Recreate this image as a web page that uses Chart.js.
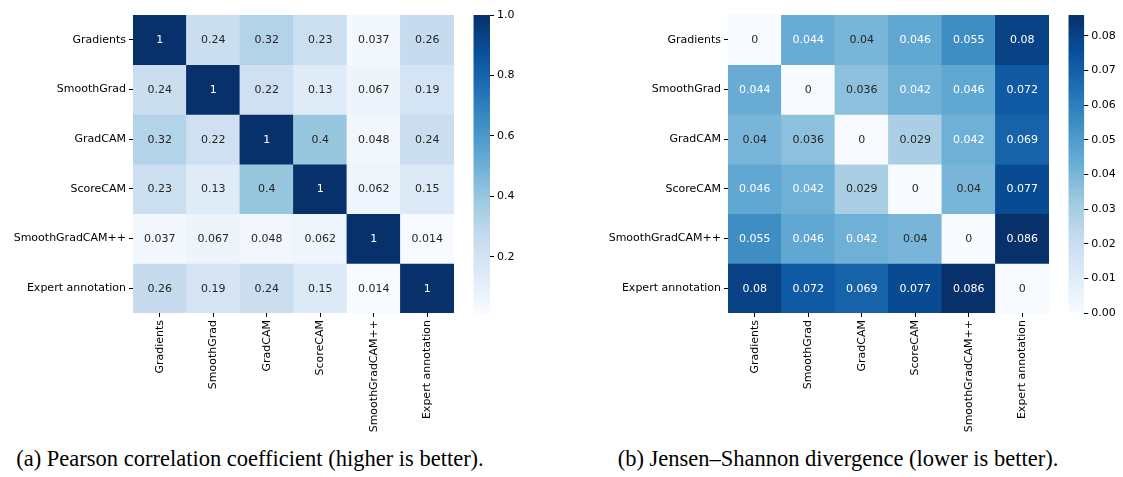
<!DOCTYPE html>
<html>
<head>
<meta charset="utf-8">
<script src="https://cdn.jsdelivr.net/npm/chart.js@4/dist/chart.umd.min.js"></script>
<style>
  html, body { margin: 0; padding: 0; background: #fff; }
  body { width: 1123px; height: 477px; position: relative; overflow: hidden; }
  canvas { position: absolute; display: block; }
  .cap {
    position: absolute; top: 448px; height: 22px; line-height: 22px;
    font-family: "Liberation Serif", "Times New Roman", serif; font-size: 22.5px;
    color: #000; white-space: nowrap; text-align: center;
  }
</style>
</head>
<body>
<canvas id="heatPearson" width="460" height="445" style="left:0;top:0"></canvas>
<canvas id="barPearson" width="60" height="335" style="left:470px;top:0"></canvas>
<canvas id="heatJsd" width="495" height="445" style="left:560px;top:0"></canvas>
<canvas id="barJsd" width="58" height="335" style="left:1065px;top:0"></canvas>
<div class="cap" style="left:0;width:500px">(a) Pearson correlation coefficient (higher is better).</div>
<div class="cap" style="left:588px;width:500px">(b) Jensen–Shannon divergence (lower is better).</div>

<script>
// Methods compared (rows and columns of both matrices)
const methods = ['Gradients', 'SmoothGrad', 'GradCAM', 'ScoreCAM', 'SmoothGradCAM++', 'Expert annotation'];

// Pearson correlation coefficient, one row per method
const pearsonGradients       = [1, 0.24, 0.32, 0.23, 0.037, 0.26];
const pearsonSmoothGrad      = [0.24, 1, 0.22, 0.13, 0.067, 0.19];
const pearsonGradCAM         = [0.32, 0.22, 1, 0.4, 0.048, 0.24];
const pearsonScoreCAM        = [0.23, 0.13, 0.4, 1, 0.062, 0.15];
const pearsonSmoothGradCAMpp = [0.037, 0.067, 0.048, 0.062, 1, 0.014];
const pearsonExpert          = [0.26, 0.19, 0.24, 0.15, 0.014, 1];

// Jensen–Shannon divergence, one row per method
const jsdGradients       = [0, 0.044, 0.04, 0.046, 0.055, 0.08];
const jsdSmoothGrad      = [0.044, 0, 0.036, 0.042, 0.046, 0.072];
const jsdGradCAM         = [0.04, 0.036, 0, 0.029, 0.042, 0.069];
const jsdScoreCAM        = [0.046, 0.042, 0.029, 0, 0.04, 0.077];
const jsdSmoothGradCAMpp = [0.055, 0.046, 0.042, 0.04, 0, 0.086];
const jsdExpert          = [0.08, 0.072, 0.069, 0.077, 0.086, 0];

// Colorbar tick labels
const pearsonTicks = [0.2, 0.4, 0.6, 0.8, 1.0];
const jsdTicks = [0, 0.01, 0.02, 0.03, 0.04, 0.05, 0.06, 0.07, 0.08];

const pearsonRows = [pearsonGradients, pearsonSmoothGrad, pearsonGradCAM, pearsonScoreCAM, pearsonSmoothGradCAMpp, pearsonExpert];
const jsdRows = [jsdGradients, jsdSmoothGrad, jsdGradCAM, jsdScoreCAM, jsdSmoothGradCAMpp, jsdExpert];

// ---- "Blues" colour map (ColorBrewer 9-class), 256-entry lookup ----
const BLUES = [
  [247, 251, 255], [222, 235, 247], [198, 219, 239], [158, 202, 225], [107, 174, 214],
  [66, 146, 198], [33, 113, 181], [8, 81, 156], [8, 48, 107]
];
function bluesAt(t) {
  t = Math.min(1, Math.max(0, t));
  const idx = Math.min(255, Math.floor(t * 256));
  const s = idx / 255 * (BLUES.length - 1);
  const i = Math.min(BLUES.length - 2, Math.floor(s));
  const f = s - i;
  return BLUES[i].map((c, k) => c + (BLUES[i + 1][k] - c) * f);
}
const rgbStr = c => `rgb(${c.map(Math.round).join(',')})`;
function luminance(c) {
  const l = c.map(x => { x /= 255; return x <= 0.03928 ? x / 12.92 : Math.pow((x + 0.055) / 1.055, 2.4); });
  return 0.2126 * l[0] + 0.7152 * l[1] + 0.0722 * l[2];
}
const fmt2g = v => String(parseFloat(v.toPrecision(2)));

const FONT = { family: 'DejaVu Sans', size: 11 };
const INK = '#000';

// Write each cell's value in its centre, light text on dark cells
const cellLabels = {
  id: 'cellLabels',
  afterDatasetsDraw(chart) {
    const ctx = chart.ctx;
    ctx.save();
    ctx.font = `${FONT.size}px "${FONT.family}"`;
    ctx.textAlign = 'center';
    ctx.textBaseline = 'middle';
    chart.data.datasets.forEach((ds, di) => {
      chart.getDatasetMeta(di).data.forEach((bar, j) => {
        const raw = ds.data[j];
        const col = bluesAt(raw.t);
        ctx.fillStyle = luminance(col) > 0.408 ? '#262626' : '#ffffff';
        const p = bar.getCenterPoint();
        ctx.fillText(fmt2g(raw.v), p.x, p.y + 0.5);
      });
    });
    ctx.restore();
  }
};

function heatmap(id, rows, axisWidth, padRight) {
  const all = rows.flat();
  const vmin = Math.min(...all), vmax = Math.max(...all);
  const datasets = rows.map((row, r) => ({
    data: row.map((v, c) => ({ x: methods[c], y: [r, r + 1], v, t: (v - vmin) / (vmax - vmin) })),
    backgroundColor: ctx => rgbStr(bluesAt(ctx.raw.t)),
    borderWidth: 0,
    grouped: false,
    barPercentage: 1,
    categoryPercentage: 1,
    inflateAmount: 0.4
  }));
  return new Chart(document.getElementById(id), {
    type: 'bar',
    data: { labels: methods, datasets },
    plugins: [cellLabels],
    options: {
      responsive: false,
      animation: false,
      events: [],
      layout: { autoPadding: false, padding: { left: 0, top: 15, right: padRight, bottom: 0 } },
      plugins: { legend: { display: false }, tooltip: { enabled: false } },
      scales: {
        x: {
          type: 'category',
          offset: true,
          grid: { display: true, offset: false, drawOnChartArea: false, drawTicks: true, tickLength: 4, tickColor: INK, tickWidth: 1 },
          border: { display: false },
          ticks: { minRotation: 90, maxRotation: 90, autoSkip: false, padding: 3, font: FONT, color: INK },
          afterFit: s => { s.height = 132; }
        },
        y: {
          type: 'linear',
          min: 0, max: rows.length,
          reverse: true,
          afterBuildTicks: s => { s.ticks = methods.map((_, i) => ({ value: i + 0.5 })); },
          grid: { display: true, drawOnChartArea: false, drawTicks: true, tickLength: 4, tickColor: INK, tickWidth: 1 },
          border: { display: false },
          ticks: { autoSkip: false, padding: 3, font: FONT, color: INK, callback: v => methods[Math.floor(v)] },
          afterFit: s => { s.width = axisWidth; }
        }
      }
    }
  });
}

function colorbar(id, rows, tickValues, decimals, padLeft, axisWidth) {
  const all = rows.flat();
  const vmin = Math.min(...all), vmax = Math.max(...all);
  return new Chart(document.getElementById(id), {
    type: 'bar',
    data: {
      labels: [''],
      datasets: [{
        data: [[vmin, vmax]],
        backgroundColor: ctx => {
          const area = ctx.chart.chartArea;
          if (!area) return rgbStr(BLUES[4]);
          const y = ctx.chart.scales.y;
          const g = ctx.chart.ctx.createLinearGradient(0, y.getPixelForValue(vmin), 0, y.getPixelForValue(vmax));
          for (let k = 0; k <= 32; k++) g.addColorStop(k / 32, rgbStr(bluesAt(k / 32)));
          return g;
        },
        borderWidth: 0,
        barPercentage: 1,
        categoryPercentage: 1,
        inflateAmount: 0
      }]
    },
    options: {
      responsive: false,
      animation: false,
      events: [],
      layout: { autoPadding: false, padding: { left: padLeft, top: 15, right: 0, bottom: 22 } },
      plugins: { legend: { display: false }, tooltip: { enabled: false } },
      scales: {
        x: { display: false },
        y: {
          position: 'right',
          min: vmin, max: vmax,
          afterBuildTicks: s => { s.ticks = tickValues.map(v => ({ value: v })); },
          grid: { display: true, drawOnChartArea: false, drawTicks: true, tickLength: 4, tickColor: INK, tickWidth: 1 },
          border: { display: false },
          ticks: { padding: 3, font: FONT, color: INK, callback: v => v.toFixed(decimals) },
          afterFit: s => { s.width = axisWidth; }
        }
      }
    }
  });
}

heatmap('heatPearson', pearsonRows, 133, 6);
colorbar('barPearson', pearsonRows, pearsonTicks, 1, 3.3, 40);
heatmap('heatJsd', jsdRows, 168, 6);
colorbar('barJsd', jsdRows, jsdTicks, 2, 3.3, 38.7);
</script>
</body>
</html>
